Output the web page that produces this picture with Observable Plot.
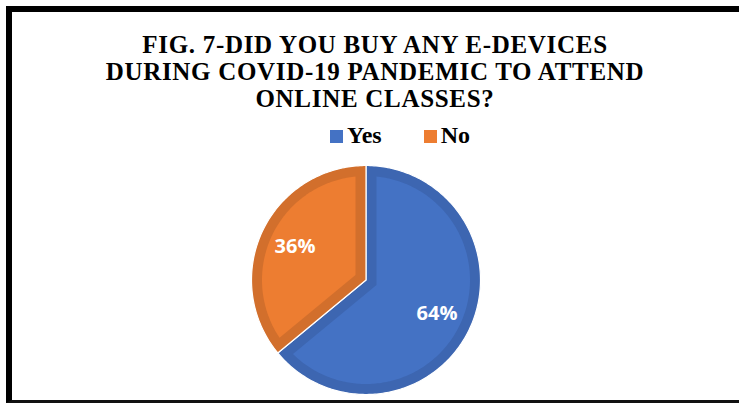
<!DOCTYPE html>
<html>
<head>
<meta charset="utf-8">
<script src="https://cdn.jsdelivr.net/npm/d3@7"></script>
<script src="https://cdn.jsdelivr.net/npm/@observablehq/plot@0.6"></script>
<style>
  html, body { margin: 0; padding: 0; background: #fff; }
  #page { position: relative; width: 739px; height: 403px; overflow: hidden; background: #fff; }
  #frame { position: absolute; left: 6px; top: 6px; width: 760px; height: 388px;
           border-left: 6px solid #000; border-top: 6px solid #000; border-bottom: 3px solid #111; }
  #title { position: absolute; left: 0; top: 31px; width: 750px; text-align: center;
           font-family: "Liberation Serif", "Times New Roman", serif; font-weight: bold;
           font-size: 25px; line-height: 27px; letter-spacing: 0.7px; color: #000; }
  #legend { position: absolute; left: 330px; top: 122px; display: flex; align-items: baseline;
            font-family: "Liberation Serif", "Times New Roman", serif; font-weight: bold;
            font-size: 24px; color: #000; }
  .item { display: flex; align-items: baseline; }
  .swatch { display: inline-block; width: 13px; height: 13px; margin-right: 4px; }
  #chart { position: absolute; left: 0; top: 155px; }
</style>
</head>
<body>
<div id="page">
  <div id="frame"></div>
  <div id="title">FIG. 7-DID YOU BUY ANY E-DEVICES<br>DURING COVID-19 PANDEMIC TO ATTEND<br>ONLINE CLASSES?</div>
  <div id="legend"></div>
  <div id="chart"></div>
</div>
<script>
// Survey answers and their shares (percent)
const categories = ["Yes", "No"];
const shares = [64, 36];
const labels = ["64%", "36%"];
const fillColors = ["#4472C4", "#ED7D31"];
const edgeColors = ["#3D66B1", "#D26F2C"];

// Legend
const legend = document.getElementById("legend");
categories.forEach((c, i) => {
  const item = document.createElement("span");
  item.className = "item";
  item.style.marginRight = i === 0 ? "42px" : "0";
  const sw = document.createElement("span");
  sw.className = "swatch";
  sw.style.background = fillColors[i];
  item.appendChild(sw);
  item.appendChild(document.createTextNode(c));
  legend.appendChild(item);
});

// Pie geometry in unit-circle coordinates (y up, angles clockwise from 12 o'clock)
const W = 739, H = 248;
const R = 114.5;          // radius in pixels
const cx = 365.5, cy = 124.5;
const band = 10.5 / R;    // width of the darker rim inside each slice

const arcs = d3.pie().sort(null).startAngle(0).endAngle(2 * Math.PI)(shares);

function sectorPoints(a0, a1, r, apex, key, fill) {
  const pts = [{x: apex[0], y: apex[1], key, fill}];
  const n = Math.max(2, Math.ceil((a1 - a0) / (Math.PI / 180)));
  for (let k = 0; k <= n; k++) {
    const a = a0 + (a1 - a0) * k / n;
    pts.push({x: r * Math.sin(a), y: r * Math.cos(a), key, fill});
  }
  pts.push({x: apex[0], y: apex[1], key, fill});
  return pts;
}

const outer = arcs.flatMap((a, i) =>
  sectorPoints(a.startAngle, a.endAngle, 1, [0, 0], "o" + i, edgeColors[i]));

const inner = arcs.flatMap((a, i) => {
  const half = (a.endAngle - a.startAngle) / 2;
  const mid = a.startAngle + half;
  const off = band / Math.sin(half);
  const rho = 1 - band;
  const da = Math.asin(band / rho);
  return sectorPoints(a.startAngle + da, a.endAngle - da, rho,
    [off * Math.sin(mid), off * Math.cos(mid)], "i" + i, fillColors[i]);
});

const labelRows = arcs.map((a, i) => {
  const mid = (a.startAngle + a.endAngle) / 2;
  return {x: 0.685 * Math.sin(mid), y: 0.685 * Math.cos(mid), text: labels[i]};
});

const chart = Plot.plot({
  width: W,
  height: H,
  margin: 0,
  style: {background: "transparent"},
  x: {domain: [-cx / R, (W - cx) / R], axis: null},
  y: {domain: [-(H - cy) / R, cy / R], axis: null},
  color: {type: "identity"},
  marks: [
    Plot.line(outer, {x: "x", y: "y", z: "key", fill: "fill", stroke: "white", strokeWidth: 1.2, curve: "linear"}),
    Plot.line(inner, {x: "x", y: "y", z: "key", fill: "fill", stroke: "none", curve: "linear"}),
    Plot.text(labelRows, {x: "x", y: "y", text: "text", fill: "white", fontSize: 20, fontWeight: "bold",
      fontFamily: "'Open Sans', sans-serif"})
  ]
});
document.getElementById("chart").appendChild(chart);
</script>
</body>
</html>
